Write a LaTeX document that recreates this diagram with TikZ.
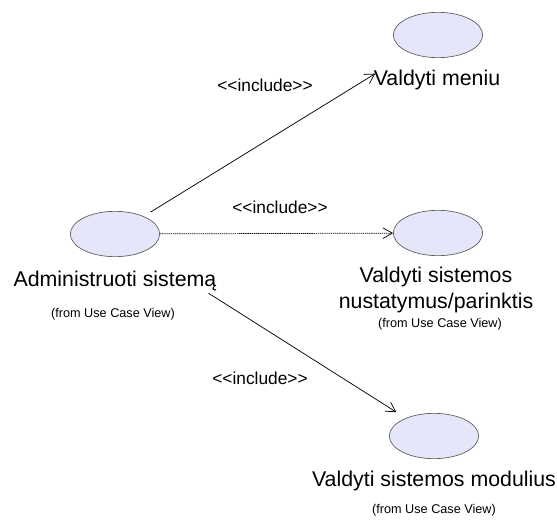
\documentclass[tikz,border=0pt]{standalone}
\usepackage{fontspec}
\setmainfont{Liberation Sans}
\usetikzlibrary{shapes.geometric,arrows.meta}

% Colours of the use cases
\definecolor{r230g230b250}{rgb}{0.901961,0.901961,0.980392}
\definecolor{r90g90b90}{rgb}{0.352941,0.352941,0.352941}

\tikzset{
  usecase/.style={ellipse, draw=r90g90b90, fill=r230g230b250, line width=0.5pt,
    minimum width=67pt, minimum height=34pt, inner sep=0pt},
  caselabel/.style={font=\fontsize{16}{19.5}\selectfont, inner sep=0pt, align=center},
  fromlabel/.style={font=\fontsize{9.5}{11}\selectfont, inner sep=0pt},
  stereolabel/.style={font=\fontsize{13}{15}\selectfont, inner sep=0pt},
  include/.style={-{Straight Barb[length=7pt,width=8pt]}, line width=0.55pt},
}
\newcommand{\inclabel}{<\kern0pt<include>\kern0pt>}

\begin{document}
\begin{tikzpicture}[x=0.75pt,y=-0.75pt]
  \useasboundingbox (0,0) rectangle (557,524);

  % Use case Administruoti sistema
  \node[usecase] (admin) at (115,234) {};%
  \node[caselabel] (adminlbl) at (115,281) {Administruoti sistemą};%
  \node[fromlabel] (adminfrom) at (113,314) {(from Use Case View)};%

  % Use case Valdyti meniu
  \node[usecase] (meniu) at (438,35) {};%
  \node[caselabel] (meniulbl) at (437,80) {Valdyti meniu};%

  % Use case Valdyti sistemos nustatymus/parinktis
  \node[usecase] (nust) at (438,233) {};%
  \node[caselabel] (nustlbl) at (436,290) {Valdyti sistemos\\nustatymus/parinktis};%
  \node[fromlabel] (nustfrom) at (440,324) {(from Use Case View)};%

  % Use case Valdyti sistemos modulius
  \node[usecase] (modul) at (434,436) {};%
  \node[caselabel] (modullbl) at (434,481) {Valdyti sistemos modulius};%
  \node[fromlabel] (modulfrom) at (434,510) {(from Use Case View)};%

  % Drawing include admin meniu
  \draw[include, shorten <=6pt, shorten >=30pt] (admin) -- (meniu);%
  \node[stereolabel] (incmeniu) at (265,85) {\inclabel};%

  % Drawing include admin nust
  \draw[include, dash pattern=on 1pt off 0.6pt] (admin) -- (nust);%
  \node[stereolabel] (incnust) at (280,207) {\inclabel};%

  % Drawing include admin modul
  \draw[include, shorten <=58pt, shorten >=8.4pt] (admin) -- (modul);%
  \node[stereolabel] (incmodul) at (260,378) {\inclabel};%
\end{tikzpicture}
\end{document}
